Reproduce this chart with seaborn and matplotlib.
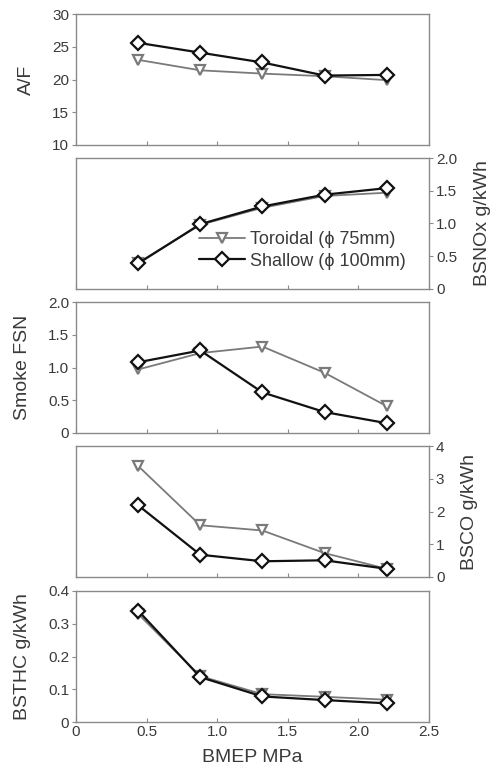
import matplotlib
matplotlib.use("Agg")
import matplotlib.pyplot as plt
import seaborn as sns
import pandas as pd

sns.set_theme(style="ticks")
plt.rcParams['font.family'] = ['Liberation Sans', 'DejaVu Sans']

# BMEP MPa
bmep = [0.44, 0.88, 1.32, 1.76, 2.20]

af_toroidal = [23.0, 21.4, 20.9, 20.5, 19.9]
af_shallow = [25.6, 24.1, 22.6, 20.6, 20.7]

nox_toroidal = [0.40, 0.98, 1.24, 1.42, 1.47]
nox_shallow = [0.39, 0.99, 1.26, 1.44, 1.54]

smoke_toroidal = [0.97, 1.22, 1.32, 0.92, 0.41]
smoke_shallow = [1.08, 1.26, 0.62, 0.32, 0.15]

co_toroidal = [3.39, 1.58, 1.42, 0.73, 0.25]
co_shallow = [2.19, 0.68, 0.48, 0.51, 0.25]

hc_toroidal = [0.33, 0.14, 0.085, 0.077, 0.068]
hc_shallow = [0.34, 0.137, 0.078, 0.067, 0.057]

series_names = ["Toroidal (\u03d5 75mm)", "Shallow (\u03d5 100mm)"]
xticklabels = ["0", "0.5", "1.0", "1.5", "2.0", "2.5"]

panels = [
    ("A/F", af_toroidal, af_shallow, (10, 30), [10, 15, 20, 25, 30], ["10", "15", "20", "25", "30"], "left"),
    ("BSNOx g/kWh", nox_toroidal, nox_shallow, (0, 2.0), [0, 0.5, 1.0, 1.5, 2.0], ["0", "0.5", "1.0", "1.5", "2.0"], "right"),
    ("Smoke FSN", smoke_toroidal, smoke_shallow, (0, 2.0), [0, 0.5, 1.0, 1.5, 2.0], ["0", "0.5", "1.0", "1.5", "2.0"], "left"),
    ("BSCO g/kWh", co_toroidal, co_shallow, (0, 4), [0, 1, 2, 3, 4], ["0", "1", "2", "3", "4"], "right"),
    ("BSTHC g/kWh", hc_toroidal, hc_shallow, (0, 0.4), [0, 0.1, 0.2, 0.3, 0.4], ["0", "0.1", "0.2", "0.3", "0.4"], "left"),
]

fig = plt.figure(figsize=(4.95, 7.62), dpi=100)

W, H = 495, 762
left_px, right_px = 76, 429
tops = [14, 158, 302, 446, 591]
ph = 131

txt_col = "#3a3a3a"
spine_col = "#8a8a8a"
styles = [
    dict(color="#7a7a7a", marker="v", markersize=7.5, linewidth=1.3),
    dict(color="#111111", marker="D", markersize=7.5, linewidth=1.6),
]

for i, (label, tor, sha, ylim, yticks, yticklabels, side) in enumerate(panels):
    ax = fig.add_axes([left_px / W, 1 - (tops[i] + ph) / H, (right_px - left_px) / W, ph / H])
    df = pd.DataFrame({"BMEP": bmep * 2, "val": tor + sha,
                       "case": [series_names[0]] * 5 + [series_names[1]] * 5})
    for name, st in zip(series_names, styles):
        sub = df[df["case"] == name]
        sns.lineplot(data=sub, x="BMEP", y="val", ax=ax, label=name,
                     color=st["color"], marker=st["marker"], markersize=st["markersize"],
                     linewidth=st["linewidth"], markerfacecolor="white",
                     markeredgecolor=st["color"], markeredgewidth=1.6)
    ax.set_xlim(0, 2.5)
    ax.set_ylim(*ylim)
    ax.set_xticks([0, 0.5, 1.0, 1.5, 2.0, 2.5])
    ax.set_xticklabels(xticklabels)
    ax.set_yticks(yticks)
    ax.set_yticklabels(yticklabels)
    ax.set_xlabel("")
    for sp in ax.spines.values():
        sp.set_color(spine_col)
        sp.set_linewidth(1.0)
    ax.tick_params(direction="in", length=3, width=0.8, color=spine_col,
                   labelsize=11, labelcolor=txt_col, pad=2)
    ax.tick_params(axis="y", direction="out", length=3)
    if side == "right":
        ax.yaxis.tick_right()
        ax.yaxis.set_label_position("right")
        ax.set_ylabel(label, fontsize=14, color=txt_col, labelpad=12)
    else:
        ax.set_ylabel(label, fontsize=14, color=txt_col, labelpad=12)
    if i < 4:
        ax.tick_params(axis="x", labelbottom=False)
    if i == 1:
        leg = ax.legend(loc="lower right", bbox_to_anchor=(0.97, 0.05), frameon=False,
                        fontsize=13, handlelength=2.5, handletextpad=0.3,
                        labelspacing=0.25, borderpad=0.2)
        for t in leg.get_texts():
            t.set_color(txt_col)
    else:
        ax.get_legend().remove()
    if i == 4:
        ax.set_xlabel("BMEP MPa", fontsize=14, color=txt_col, labelpad=7)

fig.savefig("out.png", dpi=100)
